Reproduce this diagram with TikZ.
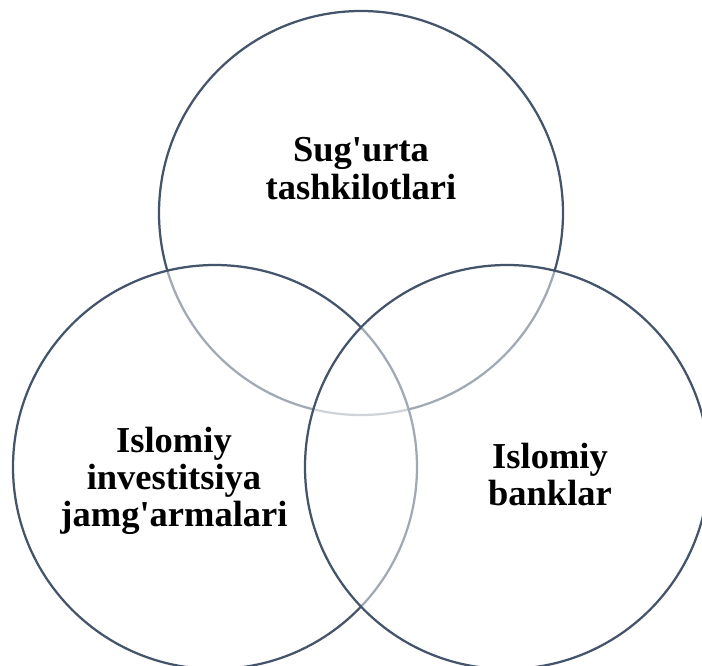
\documentclass[tikz,border=0pt]{standalone}
\usepackage{fontspec}
\setmainfont{Liberation Serif}
\definecolor{ringcol}{HTML}{44546A}
\begin{document}
\begin{tikzpicture}[x=1pt,y=-1pt,
  ring/.style={draw=ringcol,line width=2.25pt,fill=white,fill opacity=0.5},
  lbl/.style={anchor=base,inner sep=0pt,font=\fontsize{36.5}{38}\selectfont\bfseries,text=black}]
\useasboundingbox (0,0) rectangle (702,666);
\begin{scope}
\clip (0,0) rectangle (702,666);
\draw[ring] (361,213) circle[radius=202];
\draw[ring] (215,467) circle[radius=202];
\draw[ring] (507,467) circle[radius=202];
\end{scope}
\node[lbl] (t1) at (361,162) {Sug\textquotesingle urta};
\node[lbl] (t2) at (361,200) {tashkilotlari};
\node[lbl] (l1) at (174,452) {Islomiy};
\node[lbl] (l2) at (174,489) {investitsiya};
\node[lbl] (l3) at (174,526) {jamg\textquotesingle armalari};
\node[lbl] (r1) at (550,468) {Islomiy};
\node[lbl] (r2) at (550,505) {banklar};
\end{tikzpicture}
\end{document}
